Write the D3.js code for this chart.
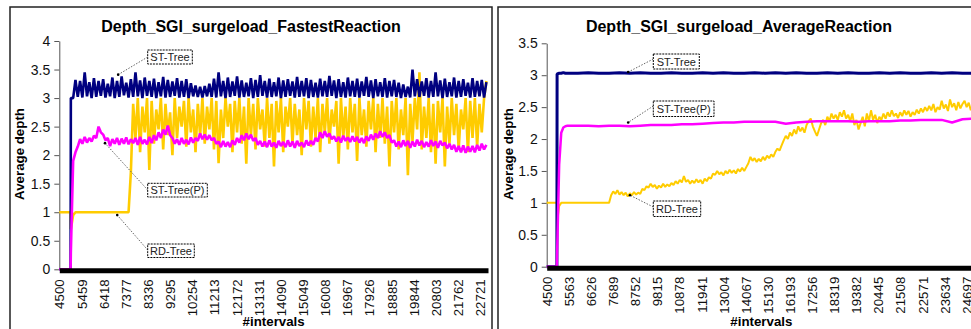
<!DOCTYPE html>
<html>
<head>
<meta charset="utf-8">
<script src="https://cdn.jsdelivr.net/npm/d3@7"></script>
<style>
  body { margin: 0; background: #fff; }
  svg { display: block; font-family: Arial, "Liberation Sans", sans-serif; }
</style>
</head>
<body>
<div id="chart"></div>
<script>
// DADOS -------------------------------------------------------------------------
// painel esquerdo (FastestReaction): amostras a cada 100 intervalos
const left_intervals = [...d3.range(4500, 5000, 100), 4990, ...d3.range(5000, 23001, 100)];

const left_st_tree = [
  0,0,0,0,0,0,3,3,3.32,3.02,
  3.3,3.01,3.45,3.03,3.28,3.0,3.35,3.02,3.3,3.04,
  3.33,3.01,3.25,3.03,3.36,3.0,3.3,3.02,3.38,3.05,
  3.27,3.01,3.33,3.02,3.45,3.03,3.31,3.0,3.36,3.04,
  3.3,3.02,3.34,3.0,3.28,3.03,3.37,3.01,3.32,3.02,
  3.29,3.04,3.35,3.01,3.3,3.02,3.33,3.0,3.26,3.03,
  3.22,3.02,3.2,3.01,3.21,3.03,3.25,3.02,3.34,3.01,
  3.45,3.03,3.3,3.0,3.36,3.02,3.29,3.04,3.38,3.01,
  3.31,3.02,3.27,3.03,3.35,3.0,3.32,3.02,3.4,3.04,
  3.3,3.01,3.34,3.02,3.28,3.03,3.36,3.0,3.31,3.02,
  3.33,3.04,3.29,3.01,3.37,3.02,3.3,3.03,3.35,3.0,
  3.32,3.02,3.27,3.01,3.34,3.03,3.3,3.02,3.39,3.04,
  3.31,3.0,3.33,3.02,3.28,3.01,3.36,3.03,3.3,3.02,
  3.34,3.01,3.29,3.04,3.37,3.02,3.31,3.0,3.33,3.03,
  3.28,3.02,3.35,3.01,3.3,3.03,3.32,3.02,3.27,3.0,
  3.24,3.02,3.2,3.01,3.5,3.03,3.33,3.02,3.29,3.04,
  3.35,3.01,3.3,3.02,3.45,3.03,3.31,3.0,3.34,3.02,
  3.28,3.03,3.36,3.01,3.3,3.02,3.33,3.04,3.27,3.01,
  3.35,3.02,3.3,3.03,3.32,3.01,3.28
];

const left_st_tree_p = [
  0,0,0,0,0,0,0.3,1.9,2.05,2.15,
  2.28,2.2,2.32,2.22,2.3,2.24,2.34,2.3,2.5,2.4,
  2.36,2.26,2.3,2.16,2.28,2.2,2.3,2.18,2.29,2.2,
  2.31,2.19,2.28,2.21,2.3,2.18,2.32,2.2,2.27,2.19,
  2.32,2.21,2.35,2.26,2.4,2.3,2.45,2.36,2.52,2.35,
  2.3,2.2,2.28,2.18,2.3,2.2,2.27,2.19,2.31,2.22,
  2.3,2.25,2.38,2.28,2.36,2.27,2.35,2.26,2.3,2.2,
  2.24,2.14,2.25,2.15,2.23,2.14,2.26,2.18,2.3,2.22,
  2.35,2.26,2.38,2.28,2.36,2.25,2.3,2.18,2.25,2.15,
  2.24,2.14,2.26,2.15,2.22,2.13,2.25,2.16,2.23,2.14,
  2.26,2.15,2.24,2.13,2.25,2.16,2.22,2.14,2.26,2.17,
  2.25,2.18,2.3,2.24,2.4,2.3,2.42,2.32,2.38,2.28,
  2.33,2.24,2.32,2.22,2.34,2.25,2.31,2.23,2.33,2.24,
  2.32,2.22,2.3,2.21,2.33,2.25,2.36,2.27,2.38,2.3,
  2.42,2.32,2.4,2.3,2.35,2.22,2.26,2.15,2.24,2.14,
  2.26,2.16,2.25,2.13,2.24,2.15,2.27,2.17,2.25,2.14,
  2.23,2.15,2.26,2.16,2.24,2.13,2.25,2.17,2.22,2.12,
  2.2,2.1,2.18,2.06,2.16,2.05,2.17,2.04,2.15,2.06,
  2.16,2.05,2.18,2.08,2.2,2.1,2.18
];

const left_rd_tree = [
  1,1,1,1,1,1,0.7,0.95,1,1,
  1,1,1,1,1,1,1,1,1,1,
  1,1,1,1,1,1,1,1,1,1,
  1,1,1.7,2.9,2.3,3.0,2.05,2.85,2.4,3.0,
  1.74,2.95,2.2,2.8,2.45,3.0,2.1,2.9,2.35,2.75,
  2.0,3.0,2.3,2.85,2.5,2.95,2.15,3.0,2.4,2.8,
  2.05,2.9,2.35,3.0,2.2,2.85,2.45,3.0,2.1,2.95,
  1.86,2.8,2.3,3.0,2.5,2.9,2.05,2.95,2.4,3.0,
  2.2,2.85,1.85,3.0,2.35,2.9,2.1,3.0,2.45,2.8,
  2.15,3.0,2.3,2.9,1.8,2.95,2.4,3.0,2.05,2.85,
  2.5,3.0,2.2,2.9,2.35,2.8,2.0,3.0,2.45,2.95,
  2.15,2.85,2.3,3.0,2.05,2.9,2.4,3.0,2.2,2.8,
  2.5,2.95,1.85,3.0,2.3,2.85,2.1,3.0,2.4,2.9,
  1.9,3.0,2.35,2.8,2.15,2.95,2.45,3.0,2.05,2.9,
  2.3,3.0,2.2,2.85,1.8,2.95,2.4,3.0,2.1,2.8,
  2.35,3.0,1.65,2.9,2.25,3.0,2.45,3.45,2.1,2.85,
  2.3,3.0,2.05,2.9,1.85,2.95,2.4,3.0,1.8,2.85,
  2.2,3.0,2.35,2.9,2.1,2.8,2.45,3.0,2.05,2.95,
  2.3,3.0,2.15,2.9,2.4,3.0,3.3
];

// painel direito (AverageReaction)
const right_intervals = [...d3.range(4500, 5000, 100), 4990, ...d3.range(5000, 25101, 100)];

const right_rd_tree = [
  1,1,1,1,1,1,0.7,0.95,1,1,
  1,1,1,1,1,1,1,1,1,1,
  1,1,1,1,1,1,1,1,1,1,
  1,1,1.12,1.18,1.14,1.2,1.13,1.17,1.12,1.16,
  1.1,1.15,1.12,1.17,1.13,1.16,1.14,1.22,1.2,1.26,
  1.24,1.3,1.25,1.28,1.22,1.27,1.24,1.3,1.25,1.29,
  1.26,1.31,1.28,1.34,1.3,1.36,1.32,1.42,1.33,1.36,
  1.3,1.35,1.31,1.37,1.32,1.36,1.3,1.38,1.34,1.4,
  1.38,1.46,1.44,1.5,1.45,1.48,1.43,1.5,1.46,1.52,
  1.47,1.51,1.46,1.53,1.49,1.55,1.5,1.56,1.62,1.72,
  1.66,1.7,1.64,1.69,1.65,1.72,1.67,1.74,1.7,1.76,
  1.72,1.8,1.85,1.82,1.9,1.98,2.05,2.0,2.1,2.05,
  2.15,2.08,2.2,2.12,2.18,2.1,2.22,2.28,2.32,2.2,
  2.12,2.05,2.15,2.25,2.3,2.22,2.35,2.28,2.4,2.32,
  2.38,2.3,2.42,2.35,2.45,2.32,2.38,2.28,2.4,2.22,
  2.3,2.15,2.25,2.35,2.2,2.4,2.28,2.45,2.3,2.38,
  2.25,2.35,2.3,2.4,2.32,2.42,2.35,2.45,2.36,2.4,
  2.33,2.42,2.36,2.45,2.38,2.44,2.35,2.42,2.38,2.46,
  2.4,2.48,2.42,2.5,2.44,2.52,2.45,2.55,2.42,2.5,
  2.46,2.6,2.48,2.54,2.44,2.62,2.5,2.56,2.45,2.58,
  2.48,2.55,2.6,2.5,2.57,2.45,2.55,2.5
];

// séries suaves do painel direito: amostragem mais espaçada
const right_smooth_intervals = [
  ...d3.range(4500, 5000, 100), 4990, ...d3.range(5000, 5501, 100), ...d3.range(6000, 25001, 500)
];

const right_st_tree = [
  0,0,0,0,0,0,3.02,3.03,3.03,3.04,3.03,3.03,
  3.03,3.04,3.03,3.03,3.04,3.03,3.04,3.03,3.03,3.04,
  3.03,3.03,3.04,3.03,3.04,3.03,3.03,3.04,3.03,3.04,
  3.03,3.04,3.03,3.03,3.04,3.03,3.04,3.03,3.03,3.04,
  3.03,3.04,3.03,3.03,3.04,3.03,3.04,3.03,3.03
];

const right_st_tree_p = [
  0,0,0,0,0,0,0.2,1.6,2.1,2.18,2.2,2.21,
  2.21,2.21,2.2,2.21,2.21,2.2,2.21,2.22,2.22,2.22,
  2.23,2.23,2.24,2.25,2.26,2.26,2.27,2.27,2.27,2.27,
  2.24,2.26,2.27,2.28,2.28,2.28,2.28,2.27,2.28,2.28,
  2.28,2.29,2.29,2.3,2.3,2.3,2.26,2.31,2.32
];

// rótulos dos eixos
const left_x_ticks = [4500,5459,6418,7377,8336,9295,10254,11213,12172,13131,14090,15049,16008,16967,17926,18885,19844,20803,21762,22721];
const right_x_ticks = [4500,5563,6626,7689,8752,9815,10878,11941,13004,14067,15130,16193,17256,18319,19382,20445,21508,22571,23634,24697];
const left_y_ticks = [0,0.5,1,1.5,2,2.5,3,3.5,4];
const right_y_ticks = [0,0.5,1,1.5,2,2.5,3,3.5];

const series_names = ["RD-Tree", "ST-Tree", "ST-Tree(P)"];
const series_colors = ["#FFCC00", "#000080", "#FF00FF"];

// SVG ----------------------------------------------------------------------------
const svg = d3.select("#chart").append("svg")
    .attr("width", 971)
    .attr("height", 329)
    .attr("viewBox", [0, 0, 971, 329]);

function Painel(
  series, // [{ x: [...], y: [...], cor, espessura }]
  {
    quadro,            // [x, y, largura, altura] da moldura
    titulo,
    dominio_x, faixa_x, ticks_x,
    dominio_y, faixa_y, ticks_y,
    rotulo_y_x,        // posição x do rótulo "Average depth"
    notas = []         // caixas de texto com linha de chamada
  } = {}
){
  const g = svg.append("g");

  // moldura
  g.append("rect")
      .attr("x", quadro[0]).attr("y", quadro[1])
      .attr("width", quadro[2]).attr("height", quadro[3])
      .attr("fill", "none")
      .attr("stroke", "#222")
      .attr("stroke-width", 1.5);

  const escala_x = d3.scaleLinear(dominio_x, faixa_x);
  const escala_y = d3.scaleLinear(dominio_y, faixa_y);

  // TÍTULO
  g.append("text")
      .attr("x", quadro[0] + quadro[2] / 2)
      .attr("y", 31.5)
      .attr("text-anchor", "middle")
      .attr("font-size", 16)
      .attr("font-weight", "bold")
      .attr("fill", "#000")
      .text(titulo);

  // EIXO Y
  g.append("g")
      .attr("transform", `translate(${faixa_x[0]},0)`)
      .call(d3.axisLeft(escala_y).tickValues(ticks_y).tickSize(5).tickSizeOuter(0).tickPadding(4).tickFormat(d => d))
      .attr("font-size", 14)
      .attr("font-family", null)
      .call(a => a.select(".domain").attr("stroke", "#555"))
      .call(a => a.selectAll(".tick line").attr("stroke", "#555"))
      .call(a => a.selectAll(".tick text").attr("fill", "#111"));

  g.append("text")
      .attr("transform", `translate(${rotulo_y_x},154) rotate(-90)`)
      .attr("text-anchor", "middle")
      .attr("font-size", 13.3)
      .attr("font-weight", "bold")
      .text("Average depth");

  // LINHAS
  const linha = d3.line();
  series.forEach(s => {
    g.append("path")
        .attr("fill", "none")
        .attr("stroke", s.cor)
        .attr("stroke-width", s.espessura)
        .attr("stroke-linejoin", "bevel")
        .attr("d", linha(s.y.map((v, i) => [escala_x(s.x[i]), escala_y(v)])));
  });

  // EIXO X (marcas densas formam a faixa preta)
  g.append("g")
      .attr("transform", `translate(0,${escala_y(0) + 1})`)
      .call(d3.axisBottom(escala_x).tickValues(ticks_x).tickSize(0).tickSizeOuter(0).tickFormat(d => d))
      .attr("font-size", 13.3)
      .attr("font-family", null)
      .call(a => a.select(".domain").attr("stroke", "#000").attr("stroke-width", 5))
      .call(a => a.selectAll(".tick text")
          .attr("fill", "#111")
          .attr("transform", "rotate(-90)")
          .attr("text-anchor", "end")
          .attr("x", -9)
          .attr("y", 0)
          .attr("dy", "0.35em"));

  g.append("text")
      .attr("x", (faixa_x[0] + faixa_x[1]) / 2)
      .attr("y", 325.5)
      .attr("text-anchor", "middle")
      .attr("font-size", 13.3)
      .attr("font-weight", "bold")
      .text("#intervals");

  // NOTAS (rótulos das séries)
  notas.forEach(n => {
    const px = escala_x(n.x), py = escala_y(n.y);
    g.append("line")
        .attr("x1", n.de[0]).attr("y1", n.de[1])
        .attr("x2", px).attr("y2", py)
        .attr("stroke", "#666")
        .attr("stroke-width", 1)
        .attr("stroke-dasharray", "1.5,1.5");
    g.append("circle")
        .attr("cx", px).attr("cy", py).attr("r", 1.3)
        .attr("fill", "#000");
    g.append("rect")
        .attr("x", n.caixa[0]).attr("y", n.caixa[1])
        .attr("width", n.caixa[2]).attr("height", n.caixa[3])
        .attr("fill", "#fff")
        .attr("stroke", "#000")
        .attr("stroke-width", 1)
        .attr("stroke-dasharray", "2,1");
    g.append("text")
        .attr("x", n.caixa[0] + n.caixa[2] / 2)
        .attr("y", n.caixa[1] + n.caixa[3] / 2 + 4)
        .attr("text-anchor", "middle")
        .attr("font-size", 11)
        .attr("fill", "#222")
        .text(n.texto);
  });
}

Painel(
  [
    { x: left_intervals, y: left_rd_tree,    cor: series_colors[0], espessura: 2.6 },
    { x: left_intervals, y: left_st_tree,    cor: series_colors[1], espessura: 2.6 },
    { x: left_intervals, y: left_st_tree_p,  cor: series_colors[2], espessura: 2.6 }
  ],
  {
    quadro: [10, 7, 482, 340],
    titulo: "Depth_SGI_surgeload_FastestReaction",
    dominio_x: [4500, 23070], faixa_x: [59.3, 488], ticks_x: left_x_ticks,
    dominio_y: [0, 4], faixa_y: [269.3, 41], ticks_y: left_y_ticks,
    rotulo_y_x: 24,
    notas: [
      { texto: series_names[1], x: 7050, y: 3.41, de: [147.7, 57], caixa: [147.7, 50, 44.6, 14] },
      { texto: series_names[2], x: 6480, y: 2.21, de: [147.7, 190], caixa: [147.7, 183.3, 59.6, 13.7] },
      { texto: series_names[0], x: 7010, y: 0.95, de: [147.7, 250], caixa: [147.7, 244, 46.6, 13.5] }
    ]
  }
);

Painel(
  [
    { x: right_intervals,        y: right_rd_tree,   cor: series_colors[0], espessura: 2 },
    { x: right_smooth_intervals, y: right_st_tree,   cor: series_colors[1], espessura: 3 },
    { x: right_smooth_intervals, y: right_st_tree_p, cor: series_colors[2], espessura: 2.5 }
  ],
  {
    quadro: [498, 7, 482, 340],
    titulo: "Depth_SGI_surgeload_AverageReaction",
    dominio_x: [4500, 25150], faixa_x: [546.7, 976], ticks_x: right_x_ticks,
    dominio_y: [0, 3.5], faixa_y: [266.7, 43.3], ticks_y: right_y_ticks,
    rotulo_y_x: 513,
    notas: [
      { texto: series_names[1], x: 8420, y: 3.05, de: [653.3, 59], caixa: [653.3, 54, 46, 15] },
      { texto: series_names[2], x: 8420, y: 2.26, de: [653.3, 106], caixa: [653.3, 101, 60.7, 15.5] },
      { texto: series_names[0], x: 8505, y: 1.12, de: [653.3, 207], caixa: [653.3, 201, 47.4, 15.5] }
    ]
  }
);
</script>
</body>
</html>
